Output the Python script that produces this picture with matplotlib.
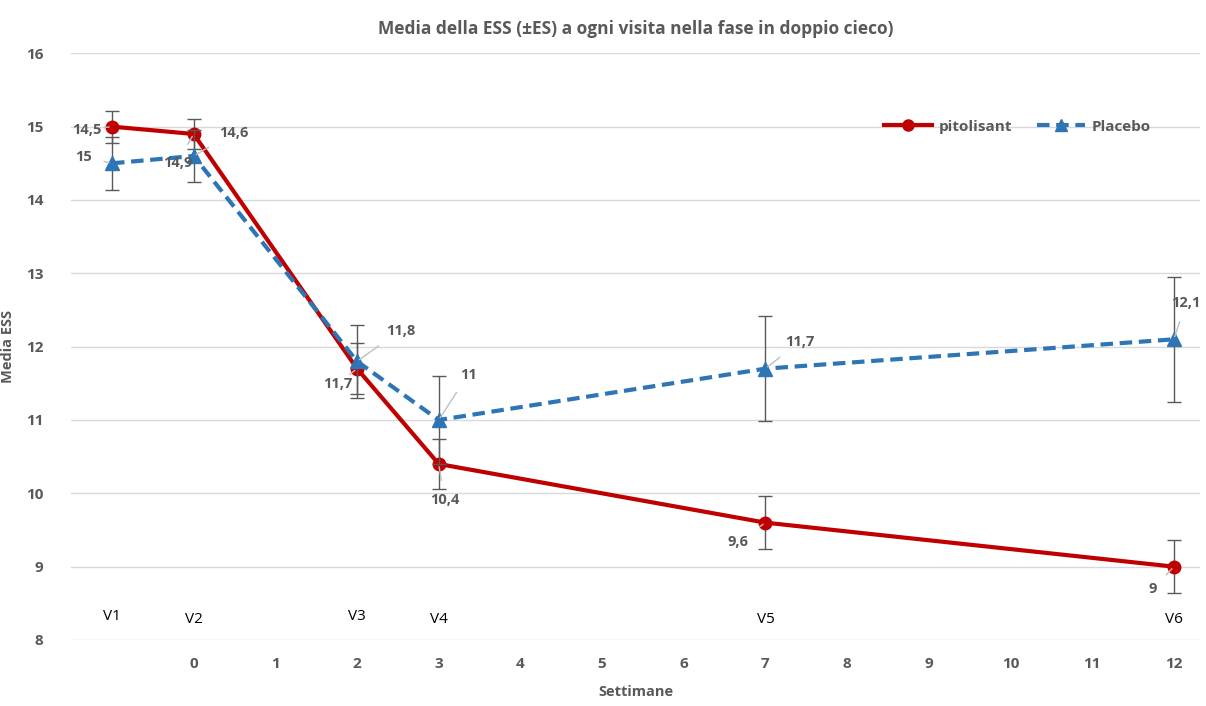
import matplotlib.pyplot as plt
from matplotlib.lines import Line2D

plt.rcParams['font.family'] = ['Open Sans', 'DejaVu Sans']

# weeks (V1 = screening, week -1)
weeks = [-1, 0, 2, 3, 7, 12]
visits = ['V1', 'V2', 'V3', 'V4', 'V5', 'V6']
pitolisant = [15, 14.9, 11.7, 10.4, 9.6, 9]
pito_se = [0.22, 0.2, 0.35, 0.34, 0.36, 0.36]
placebo = [14.5, 14.6, 11.8, 11, 11.7, 12.1]
plac_se = [0.36, 0.36, 0.5, 0.6, 0.72, 0.85]

# data labels as they appear in the chart (text, point, label position)
labels = [
    ('14,5', (-1, 15), (-1.31, 14.96)),
    ('15', (-1, 14.5), (-1.35, 14.59)),
    ('14,9', (0, 14.9), (-0.2, 14.51)),
    ('14,6', (0, 14.6), (0.49, 14.92)),
    ('11,8', (2, 11.8), (2.53, 12.22)),
    ('11,7', (2, 11.7), (1.76, 11.49)),
    ('11', (3, 11), (3.36, 11.62)),
    ('10,4', (3, 10.4), (3.07, 9.91)),
    ('11,7', (7, 11.7), (7.42, 12.07)),
    ('9,6', (7, 9.6), (6.67, 9.34)),
    ('12,1', (12, 12.1), (12.15, 12.6)),
    ('9', (12, 9), (11.74, 8.69)),
]

grey = '#595959'
red = '#C00000'
blue = '#2E75B6'

fig = plt.figure(figsize=(12.06, 7.06), dpi=100)
ax = fig.add_axes([0.059, 0.0935, 0.936, 0.831])

ax.errorbar(weeks, pitolisant, yerr=pito_se, color=red, lw=3, marker='o', ms=9,
            ecolor='#595959', elinewidth=1, capsize=5, capthick=1, zorder=3)
ax.errorbar(weeks, placebo, yerr=plac_se, color=blue, lw=3, ls=(0, (3, 1.6)), marker='^', ms=10,
            ecolor='#595959', elinewidth=1, capsize=5, capthick=1, zorder=4)

for txt, pt, pos in labels:
    ax.annotate(txt, xy=pt, xytext=pos, fontsize=10.5, fontweight='bold', color=grey,
                ha='center', va='center', annotation_clip=False, zorder=6,
                arrowprops=dict(arrowstyle='-', color='#bfbfbf', lw=1, shrinkA=7, shrinkB=2))

for w, v in zip(weeks, visits):
    ax.text(w, 8.22 if v in ('V1', 'V3') else 8.18, v, ha='center', va='bottom', fontsize=11, color='black')

ax.set_xlim(-1.5, 12.32)
ax.set_ylim(8, 16)
ax.set_xticks(range(0, 13))
ax.set_yticks(range(8, 17))
ax.grid(axis='y', color='#d9d9d9', lw=1)
ax.set_axisbelow(True)
for s in ax.spines.values():
    s.set_visible(False)
ax.tick_params(length=0, labelsize=11, labelcolor=grey, pad=12)
for t in ax.get_xticklabels() + ax.get_yticklabels():
    t.set_fontweight('bold')
ax.tick_params(axis='y', pad=20)

ax.set_title('Media della ESS (\u00b1ES) a ogni visita nella fase in doppio cieco)', fontsize=12.5,
             fontweight='bold', color=grey, pad=14)
ax.set_ylabel('Media ESS', fontsize=10.5, fontweight='bold', color=grey, labelpad=8)
ax.set_xlabel('Settimane', fontsize=10.5, fontweight='bold', color=grey, labelpad=10)

handles = [
    Line2D([], [], color=red, lw=3, marker='o', ms=8),
    Line2D([], [], color=blue, lw=3, ls=(0, (3, 1.6)), marker='^', ms=9),
]
leg = ax.legend(handles, ['pitolisant', 'Placebo'], loc='center', bbox_to_anchor=(0.838, 0.875),
                ncol=2, frameon=False, handlelength=3.2, handletextpad=0.4, columnspacing=1.6,
                prop={'weight': 'bold', 'size': 11})
for t in leg.get_texts():
    t.set_color(grey)

fig.savefig('out.png', dpi=100)
